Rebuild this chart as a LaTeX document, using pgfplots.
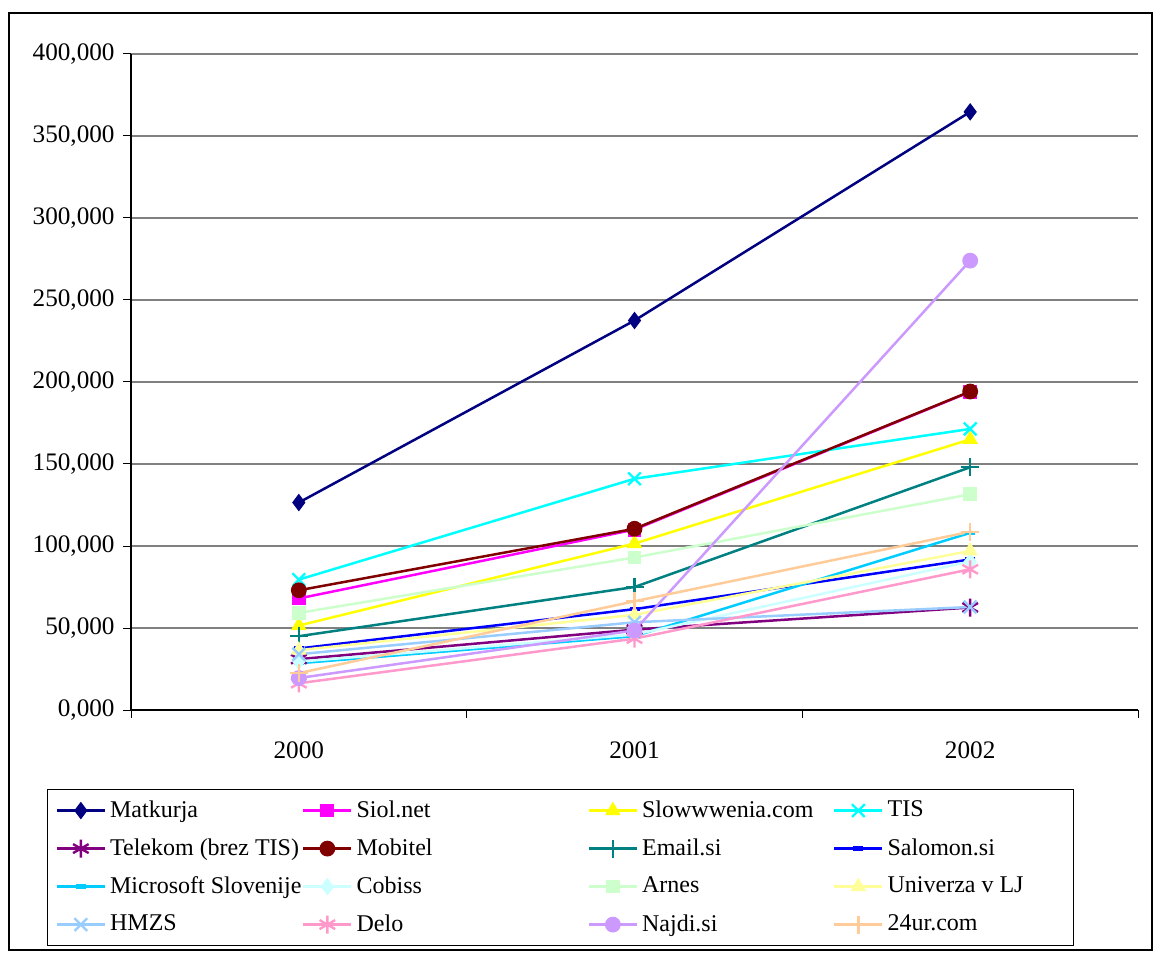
\documentclass[border=0pt,12pt]{standalone}
\usepackage{fontspec}
\setmainfont{Liberation Serif}
\usepackage{pgfplots}
\pgfplotsset{compat=1.18}
\definecolor{cMat}{HTML}{000080}
\definecolor{cSiol}{HTML}{FF00FF}
\definecolor{cSlow}{HTML}{FFFF00}
\definecolor{cTIS}{HTML}{00FFFF}
\definecolor{cTel}{HTML}{800080}
\definecolor{cMob}{HTML}{800000}
\definecolor{cEmail}{HTML}{008080}
\definecolor{cSal}{HTML}{0000FF}
\definecolor{cMS}{HTML}{00CCFF}
\definecolor{cCob}{HTML}{CCFFFF}
\definecolor{cArn}{HTML}{CCFFCC}
\definecolor{cUni}{HTML}{FFFF99}
\definecolor{cHMZS}{HTML}{99CCFF}
\definecolor{cDelo}{HTML}{FF99CC}
\definecolor{cNaj}{HTML}{CC99FF}
\definecolor{c24}{HTML}{FFCC99}
\definecolor{gridgray}{HTML}{808080}
\newcommand{\la}[1]{\makebox[96pt][l]{#1}}
\newcommand{\lb}[1]{\makebox[115.5pt][l]{#1}}
\newcommand{\lc}[1]{\makebox[95.5pt][l]{#1}}
\newcommand{\ld}[1]{\makebox[89pt][l]{#1}}
\begin{document}
\begin{tikzpicture}
\path[use as bounding box] (0pt,0pt) rectangle (577pt,476pt);
\draw[line width=0.7pt] (4.5pt,1pt) rectangle (576pt,469.5pt);
\begin{axis}[
  at={(65.5pt,121pt)}, anchor=south west,
  scale only axis, width=503.5pt, height=328pt,
  xmin=-0.5, xmax=2.5, ymin=0, ymax=400,
  axis lines*=left,
  axis line style={black, line width=0.6pt},
  xtick={0,1,2}, xticklabels={2000,2001,2002},
  major x tick style={draw=none},
  minor xtick={-0.5,0.5,1.5,2.5},
  ytick={0,50,...,400},
  tick align=outside,
  major tick length=4pt, minor tick length=4pt,
  tick style={black, line width=0.5pt},
  ymajorgrids,
  grid style={gridgray, line width=0.6pt},
  tick label style={font=\fontsize{12.6}{15}\selectfont},
  xticklabel style={yshift=-7.5pt},
  yticklabel style={/pgf/number format/.cd, fixed, fixed zerofill, precision=3, use comma, 1000 sep={}, assume math mode=true},
  legend columns=4,
  legend style={at={(-0.0834,-0.1204)}, anchor=north west, draw=black, line width=0.6pt,
    font=\fontsize{12}{14}\selectfont, inner xsep=4pt, inner ysep=1pt,
    nodes={inner sep=0pt, minimum height=19pt},
    /tikz/every odd column/.append style={column sep=2pt},
    /tikz/every even column/.append style={column sep=0pt}},
  legend image code/.code={\draw[mark repeat=2,mark phase=2] plot coordinates {(0pt,0pt)(12pt,0pt)(24pt,0pt)};},
  every axis plot/.append style={line width=1.25pt},
]
\addplot[cMat, mark=diamond*, mark size=4pt, mark options={solid, fill=cMat, line width=0.5pt}] coordinates {(0,126.5) (1,237.5) (2,364.7)};
\addlegendentry{\la{Matkurja}}
\addplot[cSiol, mark=square*, mark size=3.2pt, mark options={solid, fill=cSiol, line width=0.5pt}] coordinates {(0,68.0) (1,110.0) (2,194.0)};
\addlegendentry{\lb{Siol.net}}
\addplot[cSlow, mark=triangle*, mark size=4pt, mark options={solid, fill=cSlow, line width=0.5pt}] coordinates {(0,51.5) (1,101.5) (2,165.0)};
\addlegendentry{\lc{Slowwwenia.com}}
\addplot[cTIS, mark=x, mark size=4.5pt, mark options={solid, line width=1.2pt}] coordinates {(0,79.5) (1,141.0) (2,171.4)};
\addlegendentry{\ld{TIS}}
\addplot[cTel, mark=asterisk, mark size=4.5pt, mark options={solid, line width=1.2pt}] coordinates {(0,31.0) (1,49.0) (2,62.5)};
\addlegendentry{\la{Telekom (brez TIS)}}
\addplot[cMob, mark=*, mark size=3.7pt, mark options={solid, fill=cMob, line width=0.5pt}] coordinates {(0,73.0) (1,110.5) (2,194.2)};
\addlegendentry{\lb{Mobitel}}
\addplot[cEmail, mark=+, mark size=4.5pt, mark options={solid, line width=1.2pt}] coordinates {(0,45.0) (1,75.0) (2,148.0)};
\addlegendentry{\lc{Email.si}}
\addplot[cSal, mark=-, mark size=2.5pt, mark options={solid, line width=2.2pt}] coordinates {(0,37.5) (1,61.5) (2,91.8)};
\addlegendentry{\ld{Salomon.si}}
\addplot[cMS, mark=-, mark size=2.5pt, mark options={solid, line width=2.2pt}] coordinates {(0,28.5) (1,45.0) (2,108.0)};
\addlegendentry{\la{Microsoft Slovenije}}
\addplot[cCob, mark=diamond*, mark size=4pt, mark options={solid, fill=cCob, line width=0.5pt}] coordinates {(0,29.5) (1,46.0) (2,90.5)};
\addlegendentry{\lb{Cobiss}}
\addplot[cArn, mark=square*, mark size=3.2pt, mark options={solid, fill=cArn, line width=0.5pt}] coordinates {(0,59.2) (1,93.0) (2,131.5)};
\addlegendentry{\lc{Arnes}}
\addplot[cUni, mark=triangle*, mark size=4pt, mark options={solid, fill=cUni, line width=0.5pt}] coordinates {(0,36.5) (1,58.0) (2,97.0)};
\addlegendentry{\ld{Univerza v LJ}}
\addplot[cHMZS, mark=x, mark size=4.5pt, mark options={solid, line width=1.2pt}] coordinates {(0,34.0) (1,53.5) (2,62.8)};
\addlegendentry{\la{HMZS}}
\addplot[cDelo, mark=asterisk, mark size=4.5pt, mark options={solid, line width=1.2pt}] coordinates {(0,16.3) (1,43.5) (2,85.8)};
\addlegendentry{\lb{Delo}}
\addplot[cNaj, mark=*, mark size=3.7pt, mark options={solid, fill=cNaj, line width=0.5pt}] coordinates {(0,19.5) (1,48.5) (2,274.0)};
\addlegendentry{\lc{Najdi.si}}
\addplot[c24, mark=+, mark size=4.5pt, mark options={solid, line width=1.2pt}] coordinates {(0,22.5) (1,66.3) (2,108.7)};
\addlegendentry{\ld{24ur.com}}
\end{axis}
\end{tikzpicture}
\end{document}
